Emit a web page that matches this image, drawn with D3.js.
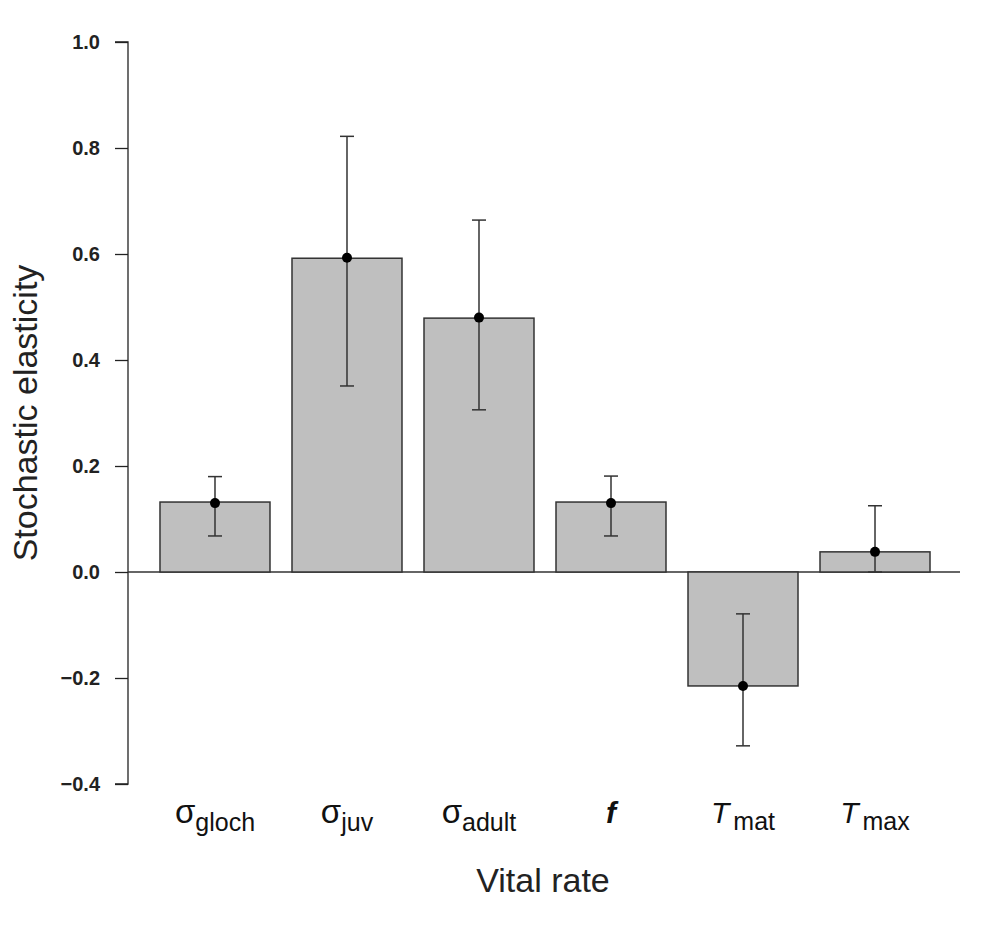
<!DOCTYPE html>
<html>
<head>
<meta charset="utf-8">
<script src="https://cdn.jsdelivr.net/npm/d3@7"></script>
<style>
  body { margin: 0; background: #fff; }
  svg { font-family: "Liberation Sans", Arial, sans-serif; }
</style>
</head>
<body>
<div id="chart"></div>
<script>
// vital rates: main symbol + subscript
const symbols = ["σ", "σ", "σ", "f", "T", "T"];
const subscripts = ["gloch", "juv", "adult", "", "mat", "max"];
const italicSymbol = [false, false, false, true, true, true];

const elasticity = [0.132, 0.592, 0.479, 0.132, -0.215, 0.038];
const meanPoint = [0.130, 0.593, 0.480, 0.130, -0.215, 0.038];
const upperCI = [0.180, 0.822, 0.664, 0.181, -0.079, 0.125];
const lowerCI = [0.068, 0.351, 0.306, 0.068, -0.328, 0.0];

const yTicks = [-0.4, -0.2, 0.0, 0.2, 0.4, 0.6, 0.8, 1.0];

const data = symbols.map((s, i) => ({
  id: i,
  sym: s,
  sub: subscripts[i],
  ital: italicSymbol[i],
  val: elasticity[i],
  pt: meanPoint[i],
  hi: upperCI[i],
  lo: lowerCI[i]
}));

const W = 1007, H = 926;

const svg = d3.select("#chart")
  .append("svg")
  .attr("width", W)
  .attr("height", H);

const y = d3.scaleLinear()
  .domain([-0.4, 1.0])
  .range([784, 42]);

const x = d3.scaleBand()
  .domain(data.map(d => d.id))
  .range([149, 941])
  .paddingInner(0.1667)
  .paddingOuter(0.0833);

// =====================
// Y AXIS
// =====================
const yAxis = svg.append("g")
  .attr("transform", "translate(128,0)")
  .call(d3.axisLeft(y)
    .tickValues(yTicks)
    .tickSize(13)
    .tickPadding(15)
    .tickFormat(d => d3.format(".1f")(d).replace("-", "\u2212")));

yAxis.select(".domain")
  .attr("stroke", "#222")
  .attr("stroke-width", 1.3)
  .attr("d", `M-13,${y(1.0)}H0V${y(-0.4)}H-13`);

yAxis.selectAll(".tick line")
  .attr("stroke", "#222")
  .attr("stroke-width", 1.3);

yAxis.selectAll(".tick text")
  .attr("fill", "#222")
  .style("font-size", "20px")
  .style("font-weight", "bold")
  .style("font-family", "'Liberation Sans', Arial, sans-serif");

// =====================
// ZERO LINE
// =====================
svg.append("line")
  .attr("x1", 128)
  .attr("x2", 960)
  .attr("y1", y(0))
  .attr("y2", y(0))
  .attr("stroke", "#333")
  .attr("stroke-width", 1.3);

// =====================
// BARS
// =====================
svg.selectAll(".bar")
  .data(data)
  .enter()
  .append("rect")
  .attr("class", "bar")
  .attr("x", d => x(d.id))
  .attr("width", x.bandwidth())
  .attr("y", d => y(Math.max(0, d.val)))
  .attr("height", d => Math.abs(y(d.val) - y(0)))
  .attr("fill", "#bfbfbf")
  .attr("stroke", "#333")
  .attr("stroke-width", 1.5);

// =====================
// ERROR BARS
// =====================
const cx = d => x(d.id) + x.bandwidth() / 2;

svg.selectAll(".err")
  .data(data)
  .enter()
  .append("line")
  .attr("x1", cx)
  .attr("x2", cx)
  .attr("y1", d => y(d.hi))
  .attr("y2", d => y(d.lo))
  .attr("stroke", "#333")
  .attr("stroke-width", 1.5);

svg.selectAll(".cap-hi")
  .data(data)
  .enter()
  .append("line")
  .attr("x1", d => cx(d) - 7)
  .attr("x2", d => cx(d) + 7)
  .attr("y1", d => y(d.hi))
  .attr("y2", d => y(d.hi))
  .attr("stroke", "#333")
  .attr("stroke-width", 1.5);

svg.selectAll(".cap-lo")
  .data(data)
  .enter()
  .append("line")
  .attr("x1", d => cx(d) - 7)
  .attr("x2", d => cx(d) + 7)
  .attr("y1", d => y(d.lo))
  .attr("y2", d => y(d.lo))
  .attr("stroke", "#333")
  .attr("stroke-width", 1.5);

// =====================
// POINTS
// =====================
svg.selectAll(".pt")
  .data(data)
  .enter()
  .append("circle")
  .attr("cx", cx)
  .attr("cy", d => y(d.pt))
  .attr("r", 5)
  .attr("fill", "#000");

// =====================
// X LABELS
// =====================
const lab = svg.selectAll(".xlab")
  .data(data)
  .enter()
  .append("text")
  .attr("class", "xlab")
  .attr("x", cx)
  .attr("y", 823)
  .attr("text-anchor", "middle")
  .attr("fill", "#111");

lab.append("tspan")
  .style("font-size", d => d.sym === "σ" ? "33px" : "30px")
  .style("font-style", d => d.ital ? "italic" : "normal")
  .style("font-weight", d => d.sym === "f" ? "bold" : "normal")
  .text(d => d.sym);

lab.append("tspan")
  .attr("dx", d => d.ital ? 4 : 0)
  .attr("dy", d => d.sym === "σ" ? 8 : 7)
  .style("font-size", "25px")
  .text(d => d.sub);

// =====================
// AXIS TITLES
// =====================
svg.append("text")
  .attr("x", 543)
  .attr("y", 892)
  .attr("text-anchor", "middle")
  .attr("fill", "#222")
  .style("font-size", "34px")
  .text("Vital rate");

svg.append("text")
  .attr("transform", "translate(37,413) rotate(-90)")
  .attr("text-anchor", "middle")
  .attr("fill", "#222")
  .style("font-size", "34px")
  .text("Stochastic elasticity");
</script>
</body>
</html>
